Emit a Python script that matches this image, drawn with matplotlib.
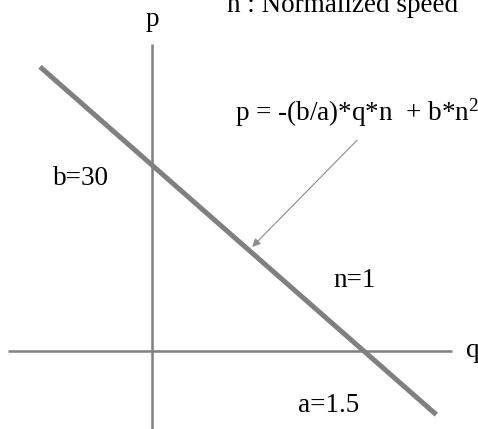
import matplotlib
matplotlib.use('Agg')
from matplotlib import pyplot as plt

plt.rcParams['font.family'] = ['Liberation Serif', 'DejaVu Serif']
plt.rcParams['mathtext.fontset'] = 'custom'
plt.rcParams['mathtext.rm'] = 'Liberation Serif'

# parameters shown on the chart
a = 1.5
b = 30
n = 1
q_line = [-0.80, 2.02]
p_line = [-(b / a) * q * n + b * n ** 2 for q in q_line]

gray = '#808080'
fs = 19.5

fig = plt.figure(figsize=(4.78, 4.29), dpi=100)
ax = fig.add_axes([0, 0, 1, 1])
ax.set_xlim(-1.085, 2.317)
ax.set_ylim(-12.73, 56.84)
ax.axis('off')

# coordinate axes
ax.plot([-1.028, 2.13], [0, 0], color=gray, lw=1.8, solid_capstyle='butt')
ax.plot([0, 0], [-12.73, 49.75], color=gray, lw=1.8, solid_capstyle='butt')

# p-q line
ax.plot(q_line, p_line, color=gray, lw=3.6, solid_capstyle='butt')

ax.annotate('', xy=(0.71, 16.8), xytext=(1.456, 34.1),
            arrowprops=dict(arrowstyle='-|>', mutation_scale=12, lw=0.8,
                            color='#8c8c8c', shrinkA=0, shrinkB=0))

ax.text(0.587, 37.3, r'p = -(b/a)*q*n  + b*n$\mathrm{^{2}}$', fontsize=fs, va='baseline')
ax.text(0.53, 54.97, 'n : Normalized speed', fontsize=fs, va='baseline')
ax.text(0, 52.6, 'p', fontsize=fs, va='baseline', ha='center')
ax.text(2.231, -1.05, 'q', fontsize=fs, va='baseline')
ax.text(-0.708, 26.84, 'b=' + str(b), fontsize=fs, va='baseline')
ax.text(1.285, 10.3, 'n=' + str(n), fontsize=fs, va='baseline')
ax.text(1.035, -9.97, 'a=' + str(a), fontsize=fs, va='baseline')

fig.savefig('out.png', dpi=100)
